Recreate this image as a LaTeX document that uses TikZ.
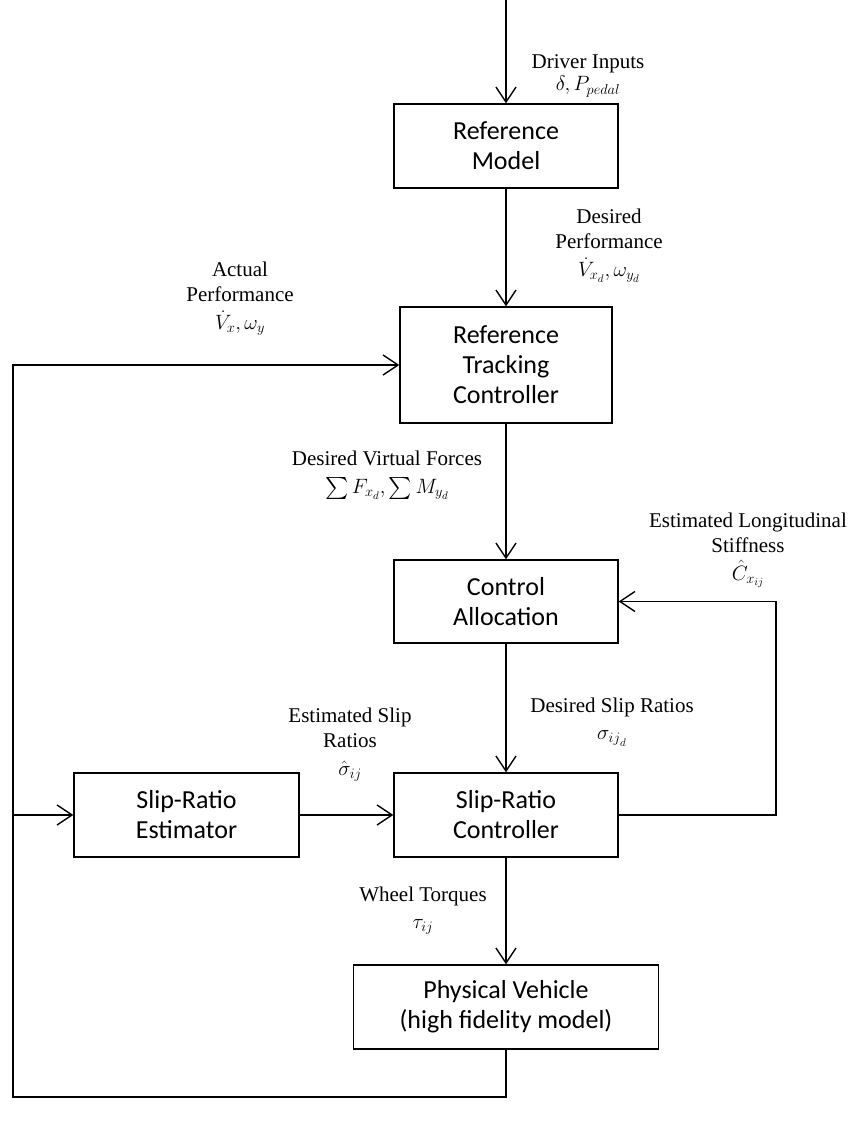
\documentclass[tikz,border=0pt]{standalone}
\usepackage{amsmath,amssymb}
\usepackage{fontspec}
\setmainfont{Liberation Serif}
\setsansfont{Carlito}
\usetikzlibrary{arrows.meta}

\newcommand{\mline}[1]{{\fontsize{22}{26}\selectfont$#1$}}

\begin{document}
\begin{tikzpicture}[x=1pt,y=-1pt,line width=1.4pt,
    >={Straight Barb[length=15pt,width=20pt,line width=1.4pt]},
    block/.style={draw,align=center,font=\sffamily\fontsize{26}{30}\selectfont,inner sep=0pt},
    lbl/.style={align=center,font=\fontsize{21}{25}\selectfont}]
	 \useasboundingbox (0,0) rectangle (857,1127);%for adjustment

            \node[block,minimum width=224pt,minimum height=84pt] (refmod) at (506,146) {Reference\\Model};
            \node[block,minimum width=212pt,minimum height=116pt] (track) at (506,365) {Reference\\Tracking\\Controller};
            \node[block,minimum width=224pt,minimum height=83pt] (alloc) at (506,601.5) {Control\\Allocation};
            \node[block,minimum width=224pt,minimum height=84pt] (srctrl) at (506,815) {Slip-Ratio\\Controller};
            \node[block,minimum width=225pt,minimum height=84pt] (srest) at (186.5,815) {Slip-Ratio\\Estimator};
            \node[block,minimum width=305pt,minimum height=84pt] (veh) at (506,1007) {Physical Vehicle\\(high fidelity model)};

            \coordinate (top) at (506,0);
            \coordinate (rloop) at (776,815);
            \coordinate (lbot) at (13,1097);
            \coordinate (lmid) at (13,815);

            \draw[->] (top)--(refmod);
            \draw[->] (refmod)--(track);
            \draw[->] (track)--(alloc);
            \draw[->] (alloc)--(srctrl);
            \draw[->] (srctrl)--(veh);
            \draw[->] (srest)--(srctrl);
            \draw[->] (srctrl.east)--(rloop)|-(alloc.east);
            \draw[->] (veh.south)|-(lbot)|-(track.west);
            \draw[->] (lmid)--(srest.west);

            \node[lbl] (drv) at (588,76) {Driver Inputs\\[-3pt]\mline{\delta, P_{pedal}}};
            \node[lbl] (desperf) at (609,246) {Desired\\Performance\\[3pt]\mline{\dot{V}_{x_d}, \omega_{y_d}}};
            \node[lbl] (actperf) at (240,299) {Actual\\Performance\\[3pt]\mline{\dot{V}_{x}, \omega_{y}}};
            \node[lbl] (desforce) at (387,475) {Desired Virtual Forces\\[3pt]\mline{\sum F_{x_d}, \sum M_{y_d}}};
            \node[lbl] (estc) at (748,550) {Estimated Longitudinal\\Stiffness\\[3pt]\mline{\hat{C}_{x_{ij}}}};
            \node[lbl] (desslip) at (612,722) {Desired Slip Ratios\\[2pt]\mline{\sigma_{{ij}_d}}};
            \node[lbl] (estslip) at (350,745) {Estimated Slip\\Ratios\\[3pt]\mline{\hat{\sigma}_{ij}}};
            \node[lbl] (torq) at (423,911) {Wheel Torques\\[2pt]\mline{\tau_{ij}}};
        \end{tikzpicture}
\end{document}
